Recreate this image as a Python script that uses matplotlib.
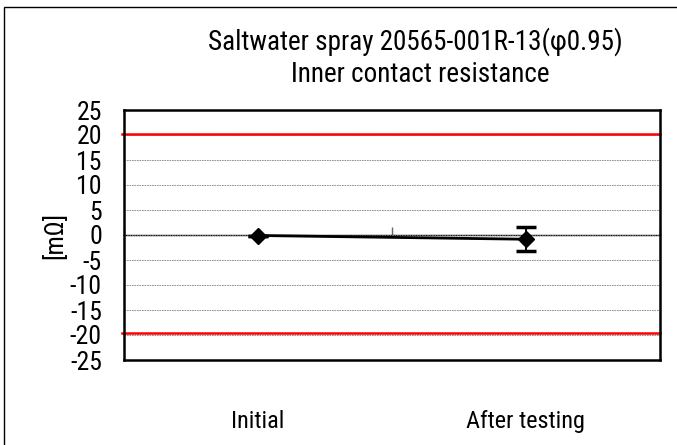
import matplotlib
matplotlib.use("Agg")
import matplotlib.pyplot as plt
from matplotlib import font_manager
from matplotlib.patches import Rectangle

# ---- data ----
categories = ["Initial", "After testing"]
mean_vals = [-0.1, -0.85]
max_vals = [-0.1, 1.55]
min_vals = [-0.1, -3.2]
upper_limit = 20.3
lower_limit = -19.5
y_ticks = [25, 20, 15, 10, 5, 0, -5, -10, -15, -20, -25]
title_lines = ["Saltwater spray 20565-001R-13(\u03c60.95)", "Inner contact resistance"]
y_label = "[m\u03a9]"

names = {f.name for f in font_manager.fontManager.ttflist}
if "Liberation Sans Narrow" in names:
    fam = "Liberation Sans Narrow"
elif "Roboto Condensed" in names:
    fam = "Roboto Condensed"
else:
    fam = "Liberation Sans"
plt.rcParams["font.family"] = [fam, "DejaVu Sans"]

W, H = 677, 445
fig = plt.figure(figsize=(W / 100, H / 100), dpi=100)
fig.patch.set_facecolor("white")
fig.patches.append(Rectangle((4 / W, -0.05), 1.1, 1 - 7 / H + 0.05, transform=fig.transFigure,
                             fill=False, edgecolor="black", lw=1.0))

ax = fig.add_axes([124 / W, 1 - 360 / H, (660 - 124) / W, 250 / H])
ax.set_xlim(-0.5, 1.5)
ax.set_ylim(-25, 25)

for s in ax.spines.values():
    s.set_linewidth(1.8)
    s.set_color("black")

ax.set_yticks(y_ticks)
ax.set_yticklabels([str(v) for v in y_ticks])
ax.tick_params(axis="y", length=0, pad=16, labelsize=18.5)
ax.yaxis.grid(True, linestyle=(0, (2, 1)), color="#808080", lw=0.6)
ax.set_axisbelow(True)

ax.set_xticks(range(len(categories)))
ax.set_xticklabels(categories)
ax.tick_params(axis="x", length=0, pad=36, labelsize=17.5)

sec = ax.secondary_xaxis(0.5)
for s in sec.spines.values():
    s.set_linewidth(1.0)
sec.set_xticks([-0.5, 0.5, 1.5])
sec.set_xticklabels(["", "", ""])
sec.tick_params(axis="x", direction="out", length=6, width=1.0, color="#666666")

ax.axhline(upper_limit, color="#ff0000", lw=1.8, xmin=-0.004, clip_on=False)
ax.axhline(lower_limit, color="#ff0000", lw=1.8, xmin=-0.004, clip_on=False)

x = list(range(len(categories)))
err_lo = [m - lo for m, lo in zip(mean_vals, min_vals)]
err_hi = [hi - m for m, hi in zip(mean_vals, max_vals)]
ax.plot(x, mean_vals, color="black", lw=2.0, zorder=4)
ax.errorbar(x, mean_vals, yerr=[err_lo, err_hi], fmt="D", color="black", ms=8,
            elinewidth=1.4, capsize=7, capthick=2.5, zorder=5)

ax.set_ylabel(y_label, fontsize=18.5)
ax.yaxis.set_label_coords(-0.106, 0.5)

fig.text(415 / W, 1 - 42 / H, title_lines[0], ha="center", va="center", fontsize=19.5)
fig.text(420 / W, 1 - 74 / H, title_lines[1], ha="center", va="center", fontsize=19.5)

fig.savefig("out.png", dpi=100)
